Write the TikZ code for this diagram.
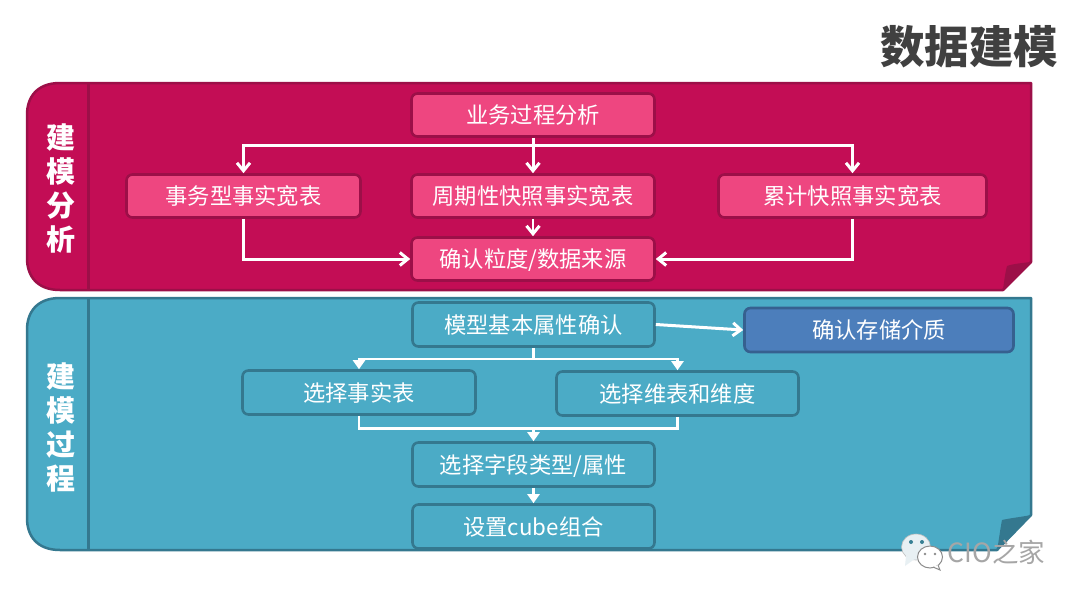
\documentclass[tikz,border=0pt]{standalone}
\usepackage{fontspec}
\setmainfont{Noto Sans CJK SC}
\usetikzlibrary{arrows.meta,calc}
\definecolor{crim}{HTML}{C30D55}
\definecolor{crimD}{HTML}{9C0F48}
\definecolor{pinkbox}{HTML}{EE4680}
\definecolor{teal1}{HTML}{4BABC6}
\definecolor{tealD}{HTML}{34788F}
\definecolor{blue1}{HTML}{4C7EBB}
\definecolor{blueD}{HTML}{36608F}
\definecolor{bubble}{HTML}{E8F0F3}
\tikzset{
  x=1pt,y=-1pt,
  txt/.style={text=white,font=\fontsize{22.3}{26}\selectfont,inner sep=0pt,anchor=center,rounded corners=6pt,line width=2.6pt},
  redbox/.style={txt,draw=crimD,fill=pinkbox,minimum height=43pt,text height=19pt,text depth=3pt},
  tealbox/.style={txt,draw=tealD,fill=teal1,minimum height=44pt,text height=22pt,text depth=3.2pt},
  bluebox/.style={txt,draw=blueD,fill=blue1,minimum height=44pt,text height=19pt,text depth=3pt},
  side/.style={text=white,font=\bfseries\fontsize{29}{34.3}\selectfont,align=center,inner sep=0pt},
  bigconn/.style={draw=white,line width=3pt,-{Straight Barb[length=8pt,width=13pt,line width=3pt]}},
  bigline/.style={draw=white,line width=3pt},
  smallconn/.style={draw=white,line width=2.6pt,-{Triangle[length=9pt,width=12pt]}},
  smallline/.style={draw=white,line width=2.6pt},
}
\begin{document}
\begin{tikzpicture}
\useasboundingbox (0,0) rectangle (1080,600);
\fill[white] (0,0) rectangle (1080,600);
% title
\node[font=\bfseries\fontsize{44.5}{50}\selectfont,text=black!75,inner sep=0pt] (title) at (969,47) {数据建模};
% top panel
\draw[fill=crim,draw=crimD,line width=2.5pt,line join=round]
  (60,83) -- (1031,83) -- (1031,262) -- (1003,290) -- (60,290)
  .. controls (38,290) and (27,277) .. (27,258) -- (27,115)
  .. controls (27,96) and (38,83) .. (60,83) -- cycle;
\fill[crimD] (1031,262) .. controls (1022,263) and (1012,264) .. (1007,266) .. controls (1005,274) and (1004,282) .. (1003,290) -- cycle;
\draw[crimD,line width=3pt] (88,83) -- (88,290);
\node[side] (lab1) at (61,188.5) {建\\模\\分\\析};
% bottom panel
\draw[fill=teal1,draw=tealD,line width=2.5pt,line join=round]
  (60,298) -- (1031,298) -- (1031,515) -- (997,550) -- (60,550)
  .. controls (38,550) and (27,537) .. (27,518) -- (27,330)
  .. controls (27,311) and (38,298) .. (60,298) -- cycle;
\fill[tealD] (1031,515) .. controls (1021,517) and (1011,518) .. (1002,520) .. controls (1000,530) and (999,540) .. (997,550) -- cycle;
\draw[tealD,line width=3pt] (88,298) -- (88,550);
\node[side] (lab2) at (61,427.5) {建\\模\\过\\程};
% top nodes
\node[redbox,minimum width=243pt] (a) at (533,115) {业务过程分析};
\node[redbox,minimum width=234pt] (s) at (243.5,196) {事务型事实宽表};
\node[redbox,minimum width=243pt] (p) at (533,196) {周期性快照事实宽表};
\node[redbox,minimum width=268pt] (l) at (852.5,196) {累计快照事实宽表};
\node[redbox,minimum width=243pt] (d) at (533,259) {确认粒度/数据来源};
% bottom nodes
\node[tealbox,minimum width=242pt] (m) at (533.5,324.5) {模型基本属性确认};
\node[bluebox,minimum width=269pt] (st) at (879,330) {确认存储介质};
\node[tealbox,minimum width=233pt] (f) at (359,392.5) {选择事实表};
\node[tealbox,minimum width=242pt] (w) at (677.5,393.5) {选择维表和维度};
\node[tealbox,minimum width=242pt] (t) at (533.5,464.5) {选择字段类型/属性};
\node[tealbox,minimum width=242pt] (c) at (533.5,526.5) {设置cube组合};
% top connectors
\coordinate (bus1) at ($(a.south)+(0,8)$);
\draw[bigline] (a.south) -- (bus1);
\draw[bigconn] (bus1) -| (s.north);
\draw[bigconn] (bus1) -- (p.north);
\draw[bigconn] (bus1) -| (l.north);
\draw[bigconn] (s.south) |- (d.west);
\draw[bigconn] (l.south) |- (d.east);
\draw[bigconn,line width=2.6pt] (p.south) -- (d.north);
% bottom connectors
\coordinate (bus2) at ($(m.south)+(0,11)$);
\draw[smallline] (m.south) -- (bus2);
\draw[smallconn] (bus2) -| (f.north);
\draw[smallconn] (bus2) -| (w.north);
\coordinate (bus3) at ($(t.north)+(0,-13)$);
\draw[smallline] (f.south) |- (bus3);
\draw[smallline] (w.south) |- (bus3);
\draw[smallconn] (bus3) -- (t.north);
\draw[smallconn] (t.south) -- (c.north);
\draw[bigconn] (m.east) -- (st.west);
% watermark
\draw[black!25,fill=bubble,line width=.6pt] (916,547) ellipse [x radius=14.5,y radius=13];
\fill[bubble] (906,556) -- (905,566) -- (916,558) -- cycle;
\fill[teal1!75!black] (911,542) circle (2) (922,542) circle (2);
\draw[black!45,fill=white,line width=1pt] (930,557) ellipse [x radius=12.5,y radius=11];
\draw[black!45,fill=white,line width=1pt] (933,567) -- (940,570) -- (938,565);
\fill[black!45] (925,554) circle (1.3) (935,554) circle (1.3);
\node[font=\fontsize{26.5}{30}\selectfont,text=black!35,inner sep=0pt] (wm) at (996.5,552) {CIO之家};
\end{tikzpicture}
\end{document}
